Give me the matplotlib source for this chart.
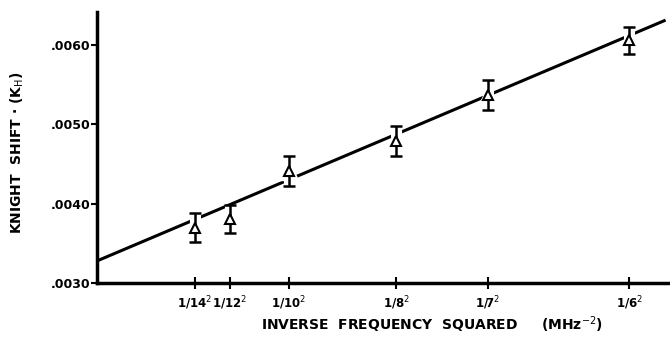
import numpy as np
import matplotlib.pyplot as plt

# 数据: 频率 (MHz) 及其 Knight shift
freq = [14, 12, 10, 8, 7, 6]
kh = [0.00370, 0.00381, 0.00441, 0.00479, 0.00537, 0.00606]
kh_err = [0.00018, 0.00018, 0.00019, 0.00019, 0.00019, 0.00017]
tick_labels = ["1/14$^2$", "1/12$^2$", "1/10$^2$", "1/8$^2$", "1/7$^2$", "1/6$^2$"]
yticks = [0.0030, 0.0040, 0.0050, 0.0060]
ytick_labels = [".0030", ".0040", ".0050", ".0060"]
# 拟合直线 K = a + b*x
fit_a = 0.00328
fit_b = 0.1023

x = 1.0 / np.array(freq) ** 2

fig = plt.figure(figsize=(6.7, 3.39), dpi=100)
ax = fig.add_axes([0.145, 0.165, 0.852, 0.80])

xs = np.array([0.0, 0.0296])
ax.plot(xs, fit_a + fit_b * xs, color="black", lw=2.2, zorder=1)

# 白色底层, 让直线在数据点处断开
ax.errorbar(x, kh, yerr=kh_err, fmt="none", ecolor="white",
            elinewidth=8, capsize=0, zorder=1.5)
ax.plot(x, kh, linestyle="none", marker="^", markersize=13,
        color="white", zorder=1.5)

ax.errorbar(x, kh, yerr=kh_err, fmt="none", ecolor="black",
            elinewidth=1.8, capsize=4, capthick=1.8, zorder=2)
ax.plot(x, kh, linestyle="none", marker="^", markersize=7,
        markerfacecolor="white", markeredgecolor="black",
        markeredgewidth=1.5, zorder=3)

ax.set_xlim(0, 0.0298)
ax.set_ylim(0.0030, 0.00642)
ax.set_xticks(x)
ax.set_xticklabels(tick_labels, fontsize=8.5, fontweight="bold")
ax.set_yticks(yticks)
ax.set_yticklabels(ytick_labels, fontsize=9, fontweight="bold")

for s in ["top", "right"]:
    ax.spines[s].set_visible(False)
for s in ["left", "bottom"]:
    ax.spines[s].set_linewidth(2.5)

ax.tick_params(axis="x", direction="inout", length=8, width=1.5, pad=4)
ax.tick_params(axis="y", direction="out", length=4, width=1.5, pad=1)

ax.set_xlabel("INVERSE  FREQUENCY  SQUARED     (MHz$^{-2}$)",
              fontsize=10, fontweight="bold")
ax.xaxis.set_label_coords(0.587, -0.115)
ax.set_ylabel("KNIGHT  SHIFT · (K$_{\\mathrm{H}}$)", fontsize=10, fontweight="bold")
ax.yaxis.set_label_coords(-0.125, 0.48)

fig.savefig("out.png", dpi=100)
